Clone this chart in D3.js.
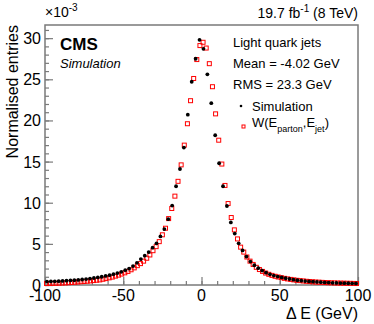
<!DOCTYPE html>
<html>
<head>
<meta charset="utf-8">
<script src="https://cdn.jsdelivr.net/npm/d3@7"></script>
<style>
  body { margin: 0; background: #fff; }
  svg { display: block; font-family: "Liberation Sans", Arial, sans-serif; }
</style>
</head>
<body>
<div id="chart"></div>
<script>
// Simulation histogram: 80 bins of 2.5 GeV from -100 to 100 (values x10^-3)
var simBinWidth = 2.5;
var simValues = [
  0.42, 0.43, 0.45, 0.47, 0.49, 0.52, 0.55, 0.58, 0.62, 0.67,
  0.72, 0.78, 0.85, 0.92, 1.0, 1.1, 1.2, 1.32, 1.45, 1.6,
  1.8, 2.0, 2.3, 2.7, 3.15, 3.57, 4.0, 4.54, 5.07, 5.9,
  6.8, 8.0, 9.65, 12.0, 14.1, 16.7, 20.7, 24.7, 27.5, 29.8,
  28.7, 25.6, 22.1, 18.2, 14.8, 12.0, 9.6, 7.6, 6.25, 5.07,
  4.2, 3.45, 2.85, 2.4, 2.05, 1.75, 1.5, 1.3, 1.15, 1.02,
  0.92, 0.82, 0.73, 0.65, 0.58, 0.53, 0.48, 0.44, 0.4, 0.37,
  0.34, 0.31, 0.29, 0.27, 0.25, 0.24, 0.22, 0.21, 0.2, 0.19
];

// W(E_parton, E_jet) evaluated in 2 GeV steps from -99 to 99 (values x10^-3)
var wStep = 2;
var wValues = [
  0.18, 0.19, 0.2, 0.21, 0.22, 0.24, 0.26, 0.28, 0.31, 0.34,
  0.37, 0.4, 0.43, 0.46, 0.5, 0.54, 0.58, 0.62, 0.7, 0.78,
  0.87, 0.96, 1.08, 1.2, 1.33, 1.48, 1.65, 1.85, 2.08, 2.35,
  2.6, 2.9, 3.25, 3.65, 4.17, 4.66, 5.27, 6.1, 6.9, 8.07,
  9.3, 10.8, 12.6, 14.6, 17.0, 19.6, 22.4, 25.1, 27.4, 29.1,
  29.5, 28.8, 26.9, 24.1, 20.8, 17.6, 14.7, 12.1, 9.9, 8.2,
  6.7, 5.6, 4.6, 4.0, 3.4, 2.9, 2.5, 2.15, 1.88, 1.65,
  1.45, 1.3, 1.17, 1.06, 0.97, 0.89, 0.81, 0.74, 0.68, 0.62,
  0.57, 0.53, 0.49, 0.45, 0.42, 0.39, 0.36, 0.34, 0.32, 0.3,
  0.28, 0.27, 0.25, 0.24, 0.23, 0.22, 0.21, 0.2, 0.19, 0.18
];

var xTicks = [-100, -50, 0, 50, 100];
var yTicks = [0, 5, 10, 15, 20, 25, 30];
var legendLines = ["Light quark jets", "Mean = -4.02 GeV", "RMS = 23.3 GeV"];

(function() {
  const width = 374, height = 324;
  const margin = {top: 25, right: 16, bottom: 39, left: 45};
  const axisColor = "#7a7a7a";

  const svg = d3.select("#chart").append("svg")
    .attr("width", width)
    .attr("height", height);

  const x = d3.scaleLinear().domain([-100, 100]).range([margin.left, width - margin.right]);
  const y = d3.scaleLinear().domain([0, 31.6]).range([height - margin.bottom, margin.top]);

  const simPts = simValues.map(function(v, i) {
    return {x: -100 + simBinWidth * (i + 0.5), v: v};
  });
  const wPts = wValues.map(function(v, i) {
    return {x: -100 + wStep * (i + 0.5), v: v};
  });

  // frame
  svg.append("rect")
    .attr("x", x(-100)).attr("y", y(31.6))
    .attr("width", x(100) - x(-100)).attr("height", y(0) - y(31.6))
    .attr("fill", "none").attr("stroke", axisColor).attr("stroke-width", 1.5);

  // x axis: major + minor ticks pointing inward
  const xAxis = svg.append("g").attr("transform", `translate(0,${y(0)})`);
  xAxis.call(d3.axisTop(x).tickValues(d3.range(-100, 101, 10)).tickSize(4).tickFormat(""));
  xAxis.call(function(g) { g.select(".domain").remove(); });
  xAxis.append("g").call(d3.axisTop(x).tickValues(xTicks).tickSize(8).tickFormat(""))
    .call(function(g) { g.select(".domain").remove(); });
  xAxis.selectAll("line").attr("stroke", axisColor).attr("stroke-width", 1.2);

  svg.append("g").selectAll("text").data(xTicks).join("text")
    .attr("x", function(d) { return x(d); })
    .attr("y", y(0) + 16)
    .attr("text-anchor", "middle")
    .attr("font-size", 16)
    .text(function(d) { return d; });

  // y axis
  const yAxis = svg.append("g").attr("transform", `translate(${x(-100)},0)`);
  yAxis.call(d3.axisRight(y).tickValues(d3.range(0, 32, 1)).tickSize(4).tickFormat(""));
  yAxis.call(function(g) { g.select(".domain").remove(); });
  yAxis.append("g").call(d3.axisRight(y).tickValues(yTicks).tickSize(8).tickFormat(""))
    .call(function(g) { g.select(".domain").remove(); });
  yAxis.selectAll("line").attr("stroke", axisColor).attr("stroke-width", 1.2);

  svg.append("g").selectAll("text").data(yTicks).join("text")
    .attr("x", x(-100) - 4)
    .attr("y", function(d) { return y(d) + 6; })
    .attr("text-anchor", "end")
    .attr("font-size", 16)
    .text(function(d) { return d; });

  // axis titles
  svg.append("text")
    .attr("x", x(100)).attr("y", 319)
    .attr("text-anchor", "end").attr("font-size", 16)
    .text("\u0394 E (GeV)");

  svg.append("text")
    .attr("transform", `translate(18,${margin.top}) rotate(-90)`)
    .attr("text-anchor", "end").attr("font-size", 16)
    .text("Normalised entries");

  const exp = svg.append("text")
    .attr("x", x(-100)).attr("y", 17).attr("font-size", 14);
  exp.append("tspan").text("\u00d710");
  exp.append("tspan").attr("dy", -6).attr("font-size", 10).text("-3");

  const lumi = svg.append("text")
    .attr("x", x(100)).attr("y", 18).attr("text-anchor", "end").attr("font-size", 14);
  lumi.append("tspan").text("19.7 fb");
  lumi.append("tspan").attr("dy", -6).attr("font-size", 10).text("-1");
  lumi.append("tspan").attr("dy", 6).text(" (8 TeV)");

  svg.append("text")
    .attr("x", 60).attr("y", 50)
    .attr("font-size", 17).attr("font-weight", "bold")
    .text("CMS");
  svg.append("text")
    .attr("x", 60).attr("y", 68)
    .attr("font-size", 13).attr("font-style", "italic")
    .text("Simulation");

  // W markers (open red squares)
  svg.append("g").selectAll("rect").data(wPts).join("rect")
    .attr("x", function(d) { return x(d.x) - 2; })
    .attr("y", function(d) { return y(d.v) - 2; })
    .attr("width", 4).attr("height", 4)
    .attr("fill", "none").attr("stroke", "#ff0000").attr("stroke-width", 1);

  // simulation markers (black dots)
  svg.append("g").selectAll("circle").data(simPts).join("circle")
    .attr("cx", function(d) { return x(d.x); })
    .attr("cy", function(d) { return y(d.v); })
    .attr("r", 1.9)
    .attr("fill", "#000");

  // legend
  const lg = svg.append("g");
  lg.selectAll("text.info").data(legendLines).join("text")
    .attr("class", "info")
    .attr("x", 233)
    .attr("y", function(d, i) { return 47 + i * 21; })
    .attr("font-size", 13)
    .text(function(d) { return d; });

  lg.append("circle").attr("cx", 241).attr("cy", 106).attr("r", 1.3).attr("fill", "#000");
  lg.append("text").attr("x", 252).attr("y", 111).attr("font-size", 13).text("Simulation");

  lg.append("rect").attr("x", 242).attr("y", 125).attr("width", 3).attr("height", 3)
    .attr("fill", "none").attr("stroke", "#ff0000").attr("stroke-width", 1);
  const wl = lg.append("text").attr("x", 252).attr("y", 127).attr("font-size", 13);
  wl.append("tspan").text("W(E");
  wl.append("tspan").attr("dy", 5).attr("font-size", 9).text("parton");
  wl.append("tspan").attr("dy", -5).text(",E");
  wl.append("tspan").attr("dy", 5).attr("font-size", 9).text("jet");
  wl.append("tspan").attr("dy", -5).text(")");
})();
</script>
</body>
</html>
